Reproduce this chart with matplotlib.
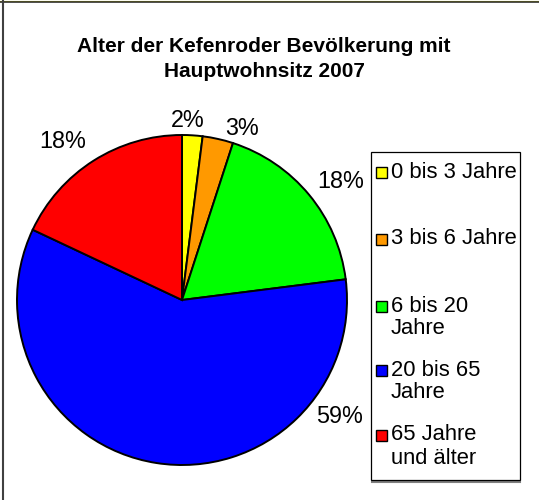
import matplotlib
matplotlib.use("Agg")
import matplotlib.pyplot as plt
from matplotlib.patches import Rectangle
from matplotlib.lines import Line2D

plt.rcParams['font.family'] = ['Liberation Sans', 'DejaVu Sans']

# Data
categories = ["0 bis 3 Jahre", "3 bis 6 Jahre", "6 bis 20\nJahre", "20 bis 65\nJahre", "65 Jahre\nund älter"]
shares = [2, 3, 18, 59, 18]
colors = ["#FFFF00", "#FF9900", "#00FF00", "#0000FF", "#FF0000"]
title = "Alter der Kefenroder Bevölkerung mit\nHauptwohnsitz 2007"

W, H = 539, 500
fig = plt.figure(figsize=(W / 100, H / 100), dpi=100)
fig.patch.set_facecolor("white")
ax = fig.add_axes([0, 0, 1, 1])


def py(y):
    """Convert a top-down pixel row into axis units."""
    return H - y


# Pie
wedges, _ = ax.pie(shares, colors=colors, startangle=90, counterclock=False,
                   center=(182, py(300)), radius=165, frame=True,
                   wedgeprops=dict(edgecolor="black", linewidth=1.4))

# Percentage labels (anchor points, baseline)
label_anchor = [(188, 127), (242, 135), (341, 188), (340, 423), (63, 148)]
for v, (lx, ly) in zip(shares, label_anchor):
    ax.text(lx, py(ly), f"{v}%", ha="center", va="baseline", fontsize=16.8)

# Title
ax.text(264, py(59), title, ha="center", va="center", fontsize=15,
        fontweight="bold", linespacing=1.45)

# Legend
lx0, ly0, lx1, ly1 = 371, 152, 520, 480
ax.add_line(Line2D([lx0 + 1, lx1], [py(ly1 + 1.5)] * 2, color="#808080", lw=1.5))
ax.add_patch(Rectangle((lx0, py(ly1)), lx1 - lx0, ly1 - ly0, facecolor="white",
                       edgecolor="black", linewidth=0.9, zorder=3))
row_y = [172, 239, 306, 370, 435]
for name, c, ry in zip(categories, colors, row_y):
    ax.add_patch(Rectangle((376, py(ry) - 5.5), 11, 11, facecolor=c,
                           edgecolor="black", linewidth=1.0, zorder=4))
    for i, line in enumerate(name.split("\n")):
        ax.text(391, py(ry + i * 23), line, ha="left", va="center",
                fontsize=15.8, zorder=5)

# Outer frame edges
ax.add_line(Line2D([0, W], [py(0.5)] * 2, color="#e0e000", lw=0.8))
ax.add_line(Line2D([0, W], [py(1.8)] * 2, color="#303030", lw=1.2))
ax.add_line(Line2D([2.6, 2.6], [0, H], color="#404040", lw=1.5))

ax.set_xlim(0, W)
ax.set_ylim(0, H)
ax.set_aspect("equal")
ax.axis("off")

fig.savefig("out.png", dpi=100, facecolor="white")
